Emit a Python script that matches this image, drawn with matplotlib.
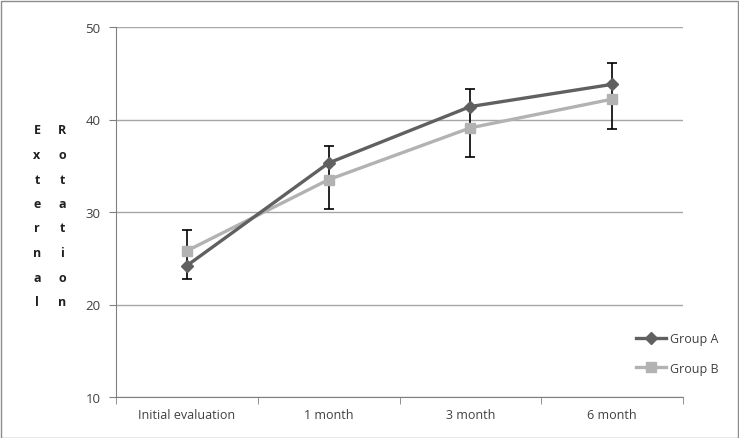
import matplotlib
matplotlib.use("Agg")
import matplotlib.pyplot as plt
from matplotlib.patches import Rectangle

categories = ["Initial evaluation", "1 month", "3 month", "6 month"]
group_a = [24.2, 35.3, 41.4, 43.8]
group_a_err = [1.4, 1.8, 1.9, 2.3]
group_b = [25.8, 33.5, 39.1, 42.2]
group_b_err = [2.3, 3.2, 3.2, 3.2]
yticks = [10, 20, 30, 40, 50]

plt.rcParams['font.family'] = ['Open Sans', 'DejaVu Sans']

fig = plt.figure(figsize=(7.39, 4.39), dpi=100)
ax = fig.add_axes([116/739, 1-398/439, (683-116)/739, (398-28)/439])
x = list(range(len(categories)))

# combined error span (inner caps are hidden behind markers in the original)
hi = [max(a + ea, b + eb) for a, ea, b, eb in zip(group_a, group_a_err, group_b, group_b_err)]
lo = [min(a - ea, b - eb) for a, ea, b, eb in zip(group_a, group_a_err, group_b, group_b_err)]
mid = [(h + l) / 2 for h, l in zip(hi, lo)]
ax.errorbar(x, mid, yerr=[[m - l for m, l in zip(mid, lo)], [h - m for h, m in zip(hi, mid)]],
            fmt='none', ecolor='black', elinewidth=1.2, capsize=3.5, capthick=1.2, zorder=2)
ax.plot(x, group_a, color='#606060', lw=2.4, marker='D', ms=6.5, label='Group A', zorder=4)
ax.plot(x, group_b, color='#b2b2b2', lw=2.4, marker='s', ms=7.5, label='Group B', zorder=3)

ax.set_xlim(-0.5, 3.5)
ax.set_ylim(10, 50)
ax.set_yticks(yticks)
ax.set_xticks(x)
ax.set_xticklabels(categories)
ax.set_xticks([-0.5, 0.5, 1.5, 2.5, 3.5], minor=True)
ax.tick_params(axis='x', which='major', length=0, pad=8, labelsize=9, colors='#404040')
ax.tick_params(axis='x', which='minor', length=5, color='#808080')
ax.tick_params(axis='y', length=5, color='#808080', labelsize=9.5, labelcolor='#404040', pad=6)
ax.grid(axis='y', color='#a6a6a6', lw=1)
ax.set_axisbelow(True)
for s in ['top', 'right']:
    ax.spines[s].set_visible(False)
ax.spines['left'].set_color('#808080')
ax.spines['bottom'].set_color('#808080')

for i, ch in enumerate("External"):
    fig.text(37/739, 1-(131+i*24.5)/439, ch, ha='center', va='center', fontsize=9, fontweight='bold', color='#202020')
for i, ch in enumerate("Rotation"):
    fig.text(62/739, 1-(131+i*24.5)/439, ch, ha='center', va='center', fontsize=9, fontweight='bold', color='#202020')

leg = ax.legend(loc='upper left', bbox_to_anchor=(625/739, 1-322/439), bbox_transform=fig.transFigure,
                frameon=False, fontsize=9, handlelength=2.4, labelspacing=1.3, handletextpad=0.3)
for t in leg.get_texts():
    t.set_color('#404040')

fig.patches.append(Rectangle((0.5/739, 0.5/439), 737/739, 437/439, transform=fig.transFigure,
                             fill=False, edgecolor='#8c8c8c', lw=1))

fig.savefig("out.png", dpi=100)
